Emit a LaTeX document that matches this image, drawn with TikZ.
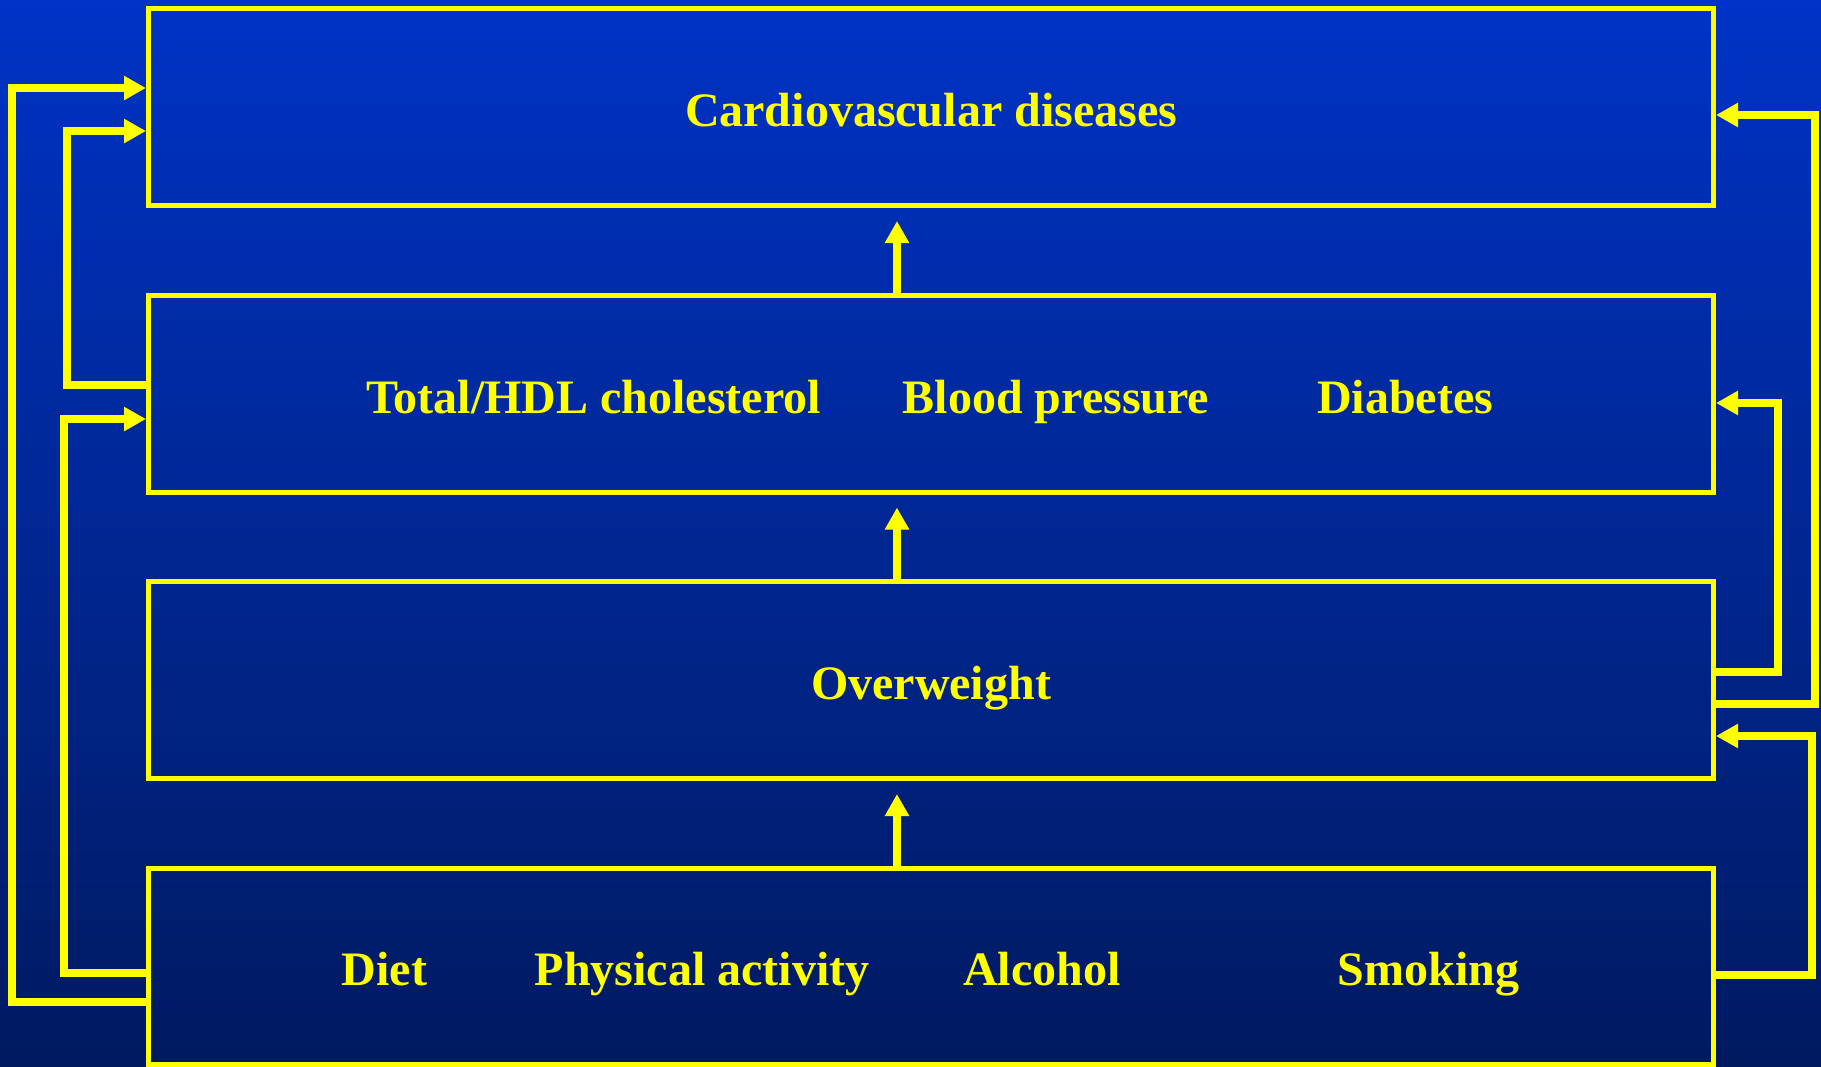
\documentclass[tikz,border=0pt]{standalone}
\usepackage{fontspec}
\setmainfont{Liberation Serif}
\usetikzlibrary{arrows.meta}
\definecolor{bgtop}{RGB}{0,51,198}
\definecolor{bgbot}{RGB}{0,26,96}
\definecolor{ylw}{RGB}{255,255,0}
\tikzset{
  box/.style={draw=ylw, line width=5pt, rectangle, minimum width=1565pt, minimum height=196.5pt, inner sep=0pt},
  lbl/.style={text=ylw, font=\fontsize{48}{56}\selectfont\bfseries, anchor=base, inner sep=0pt},
  conn/.style={draw=ylw, line width=8pt, line join=miter, -{Triangle[length=22pt,width=23pt]}},
  link/.style={draw=ylw, line width=8pt, line join=miter},
}
\begin{document}
\begin{tikzpicture}[x=1pt,y=-1pt]
\useasboundingbox (0,0) rectangle (1821,1066);
\shade[top color=bgtop, bottom color=bgbot] (0,0) rectangle (1821,1066);

\node[box] (b1) at (931,106.75) {};
\node[box] (b2) at (931,393.75) {};
\node[box] (b3) at (931,680) {};
\node[box] (b4) at (931,966.5) {};

\node[lbl] (t1) at (931,126) {Cardiovascular diseases};
\node[lbl] (t2a) at (593.6,413) {Total/HDL cholesterol};
\node[lbl] (t2b) at (1056,413) {Blood pressure};
\node[lbl] (t2c) at (1405,413) {Diabetes};
\node[lbl] (t3) at (931,699) {Overweight};
\node[lbl] (t4a) at (384.6,985.5) {Diet};
\node[lbl] (t4b) at (702,985.5) {Physical activity};
\node[lbl] (t4c) at (1042,985.5) {Alcohol};
\node[lbl] (t4d) at (1428.5,985.5) {Smoking};

% vertical arrows
\coordinate (u1) at (897,221);
\coordinate (u2) at (897,507.5);
\coordinate (u3) at (897,794);
\draw[conn] (b2.north -| u1) -- (u1);
\draw[conn] (b3.north -| u2) -- (u2);
\draw[conn] (b4.north -| u3) -- (u3);

% left side
\draw[conn] (b4.west |- 0,1002) -| (12,88) -- (b1.west |- 0,88);
\draw[conn] (b4.west |- 0,973) -| (64,419) -- (b2.west |- 0,419);
\draw[conn] (b2.west |- 0,384.5) -| (66.5,131) -- (b1.west |- 0,131);

% right side
\draw[conn] (b3.east |- 0,672) -| (1778,403) -- (b2.east |- 0,403);
\draw[conn] (b3.east |- 0,704) -| (1815,115) -- (b1.east |- 0,115);
\draw[conn] (b4.east |- 0,975) -| (1812,736) -- (b3.east |- 0,736);
\end{tikzpicture}
\end{document}
